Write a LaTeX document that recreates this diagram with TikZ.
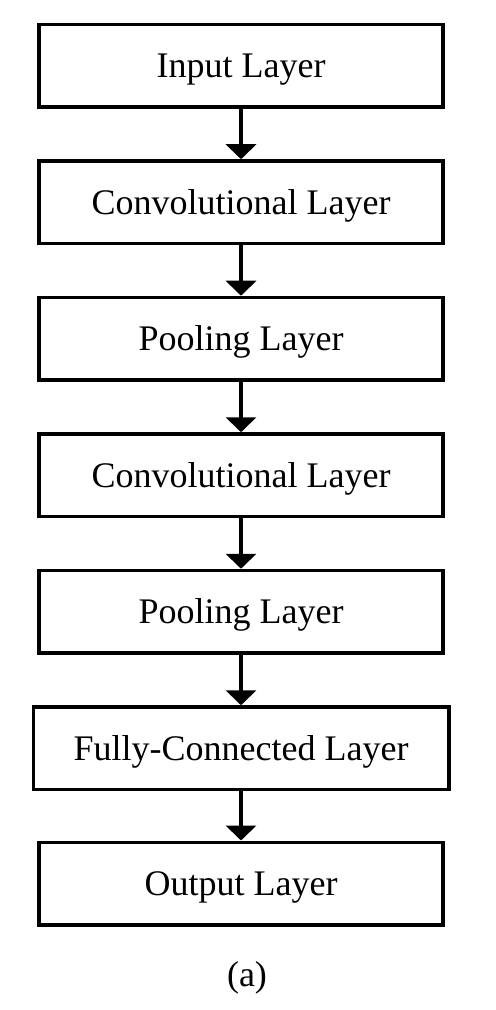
\documentclass[tikz,border=0pt]{standalone}
\usepackage{fontspec}
\setmainfont{Liberation Serif}
\usetikzlibrary{arrows.meta}
\begin{document}
\begin{tikzpicture}[x=0.5pt,y=-0.5pt,
  layerbox/.style={draw=black, line width=1.75pt, minimum width=202pt, minimum height=41.25pt,
    inner sep=0pt, text height=12pt, text depth=0pt, font=\fontsize{18}{22}\selectfont},
  flowarrow/.style={line width=2pt, -{Triangle[width=15pt,length=7.5pt]}},
  caption/.style={font=\fontsize{18}{22}\selectfont, inner sep=0pt}]
\useasboundingbox (0,0) rectangle (495,1010);
\node[layerbox] (n1) at (241,65.75) {Input Layer};
\node[layerbox] (n2) at (241,202.25) {Convolutional Layer};
\node[layerbox] (n3) at (241,338.75) {Pooling Layer};
\node[layerbox] (n4) at (241,475.25) {Convolutional Layer};
\node[layerbox] (n5) at (241,611.75) {Pooling Layer};
\node[layerbox, minimum width=207.75pt] (n6) at (241,748.25) {Fully-Connected Layer};
\node[layerbox] (n7) at (241,883.5) {Output Layer};
\node[caption] (cap) at (247,978) {(a)};
\draw[flowarrow] (n1.south) -- (n2.north);
\draw[flowarrow] (n2.south) -- (n3.north);
\draw[flowarrow] (n3.south) -- (n4.north);
\draw[flowarrow] (n4.south) -- (n5.north);
\draw[flowarrow] (n5.south) -- (n6.north);
\draw[flowarrow] (n6.south) -- (n7.north);
\end{tikzpicture}
\end{document}
